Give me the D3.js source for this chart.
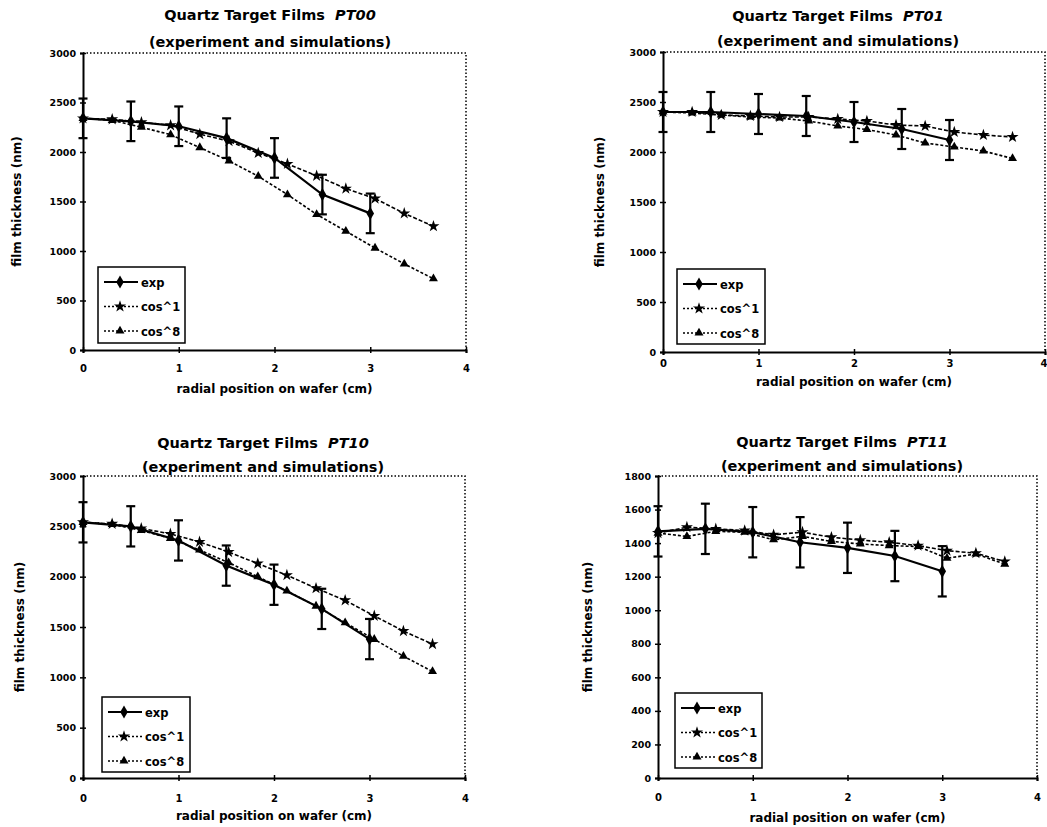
<!DOCTYPE html>
<html><head><meta charset="utf-8">
<script src="https://cdn.jsdelivr.net/npm/d3@7"></script>
<style>
html,body{margin:0;padding:0;background:#fff;}
svg{display:block;}
text{font-family:"DejaVu Sans",Arial,sans-serif;font-weight:700;fill:#000;}
</style></head>
<body>
<svg id="c" width="1047" height="827"></svg>
<script>
// ---------- data ----------
const expX = [0, 0.5, 1, 1.5, 2, 2.5, 3];
const simX = [0, 0.305, 0.61, 0.915, 1.22, 1.525, 1.83, 2.135, 2.44, 2.745, 3.05, 3.355, 3.66];
const xTicks = [0, 1, 2, 3, 4];
const yTicks3000 = [0, 500, 1000, 1500, 2000, 2500, 3000];
const yTicks1800 = [0, 200, 400, 600, 800, 1000, 1200, 1400, 1600, 1800];
const seriesNames = ["exp", "cos^1", "cos^8"];
const panelNames = ["PT00", "PT01", "PT10", "PT11"];

const expPT00  = [2340, 2310, 2260, 2140, 1940, 1570, 1380];
const errPT00  = [200, 200, 200, 200, 200, 200, 200];
const cos1PT00 = [2340, 2330, 2300, 2270, 2180, 2110, 1990, 1880, 1760, 1630, 1530, 1380, 1250];
const cos8PT00 = [2340, 2320, 2250, 2175, 2045, 1910, 1755, 1570, 1370, 1200, 1030, 870, 720];

const expPT01  = [2400, 2400, 2380, 2360, 2300, 2230, 2120];
const errPT01  = [200, 200, 200, 200, 200, 200, 200];
const cos1PT01 = [2400, 2400, 2370, 2360, 2350, 2350, 2330, 2310, 2270, 2260, 2200, 2170, 2150];
const cos8PT01 = [2400, 2390, 2370, 2350, 2340, 2310, 2260, 2225, 2170, 2090, 2050, 2010, 1935];

const expPT10  = [2540, 2500, 2360, 2110, 1920, 1680, 1380];
const errPT10  = [200, 200, 200, 200, 200, 200, 200];
const cos1PT10 = [2540, 2525, 2480, 2425, 2345, 2245, 2130, 2015, 1885, 1765, 1610, 1460, 1330];
const cos8PT10 = [2540, 2520, 2460, 2380, 2265, 2140, 2000, 1858, 1708, 1542, 1378, 1210, 1058];

const expPT11  = [1470, 1485, 1465, 1405, 1372, 1323, 1232];
const errPT11  = [150, 150, 150, 150, 150, 150, 150];
const cos1PT11 = [1460, 1495, 1485, 1475, 1450, 1465, 1435, 1418, 1405, 1385, 1355, 1340, 1290];
const cos8PT11 = [1460, 1440, 1470, 1465, 1420, 1440, 1410, 1395, 1385, 1380, 1310, 1335, 1275];

// ---------- layout ----------
const panels = [
  {name: panelNames[0], exp: expPT00, err: errPT00, c1: cos1PT00, c8: cos8PT00, yMax: 3000, yTicks: yTicks3000,
   L: 83, R: 466, T: 53, B: 350, tx: 270, t1: 20, t2: 47, xlabY: 372, xtitY: 393, ytitX: 21, leg: {x: 98, y: 267, w: 87, h: 76}},
  {name: panelNames[1], exp: expPT01, err: errPT01, c1: cos1PT01, c8: cos8PT01, yMax: 3000, yTicks: yTicks3000,
   L: 663, R: 1045, T: 52, B: 352, tx: 838, t1: 21, t2: 46, xlabY: 367, xtitY: 386, ytitX: 604, leg: {x: 677, y: 269, w: 88, h: 75}},
  {name: panelNames[2], exp: expPT10, err: errPT10, c1: cos1PT10, c8: cos8PT10, yMax: 3000, yTicks: yTicks3000,
   L: 83, R: 465, T: 476, B: 778, tx: 263, t1: 448, t2: 472, xlabY: 802, xtitY: 820, ytitX: 24, leg: {x: 102, y: 697, w: 88, h: 75}},
  {name: panelNames[3], exp: expPT11, err: errPT11, c1: cos1PT11, c8: cos8PT11, yMax: 1800, yTicks: yTicks1800,
   L: 658, R: 1037, T: 476, B: 778, tx: 842, t1: 447, t2: 471, xlabY: 801, xtitY: 822, ytitX: 592, leg: {x: 675, y: 693, w: 87, h: 75}}
];

const svg = d3.select("#c");
const W = 1047;

const sym = {
  exp: d3.symbol().type(d3.symbolDiamond).size(50),
  c1: d3.symbol().type(d3.symbolStar).size(45),
  c8: d3.symbol().type(d3.symbolTriangle).size(35)
};

panels.forEach(p => {
  const g = svg.append("g");
  const x = d3.scaleLinear().domain([0, 4]).range([p.L, p.R]);
  const y = d3.scaleLinear().domain([0, p.yMax]).range([p.B, p.T]);

  // dotted plot border (top/right)
  g.append("path")
    .attr("d", `M${p.L},${p.T}H${p.R}V${p.B}`)
    .attr("fill", "none").attr("stroke", "#000").attr("stroke-width", 1.5)
    .attr("stroke-dasharray", "1.5,2");

  // axes
  const ya = g.append("g").attr("transform", `translate(${p.L},0)`)
    .call(d3.axisLeft(y).tickValues(p.yTicks).tickSize(3).tickPadding(4).tickFormat(d3.format("d")));
  ya.select(".domain").attr("stroke-width", 2);
  ya.selectAll(".tick line").attr("stroke-width", 1.5);
  ya.selectAll(".tick").append("line").attr("x2", 3).attr("stroke", "#000").attr("stroke-width", 1.5);
  ya.selectAll("text").style("font-size", "9.5px").style("font-family", "DejaVu Sans, Arial").style("font-weight", 700);

  const xa = g.append("g").attr("transform", `translate(0,${p.B})`)
    .call(d3.axisBottom(x).tickValues(xTicks).tickSize(3).tickPadding(0).tickFormat(d3.format("d")));
  xa.select(".domain").attr("stroke-width", 2);
  xa.selectAll(".tick line").attr("stroke-width", 1.5);
  xa.selectAll(".tick").append("line").attr("y2", -3).attr("stroke", "#000").attr("stroke-width", 1.5);
  xa.selectAll("text").attr("y", null).attr("dy", null)
    .attr("transform", `translate(0,${p.xlabY - p.B})`)
    .style("font-size", "10px").style("font-family", "DejaVu Sans, Arial").style("font-weight", 700);
  // keep a label at the page's right edge inside the picture
  xa.selectAll(".tick").filter(d => x(d) + 4 > W).select("text").attr("text-anchor", "end").attr("x", 2);

  // titles
  const t = g.append("text").attr("x", p.tx).attr("y", p.t1).attr("text-anchor", "middle").style("font-size", "14.5px");
  t.append("tspan").text("Quartz Target Films\u00a0\u00a0");
  t.append("tspan").style("font-style", "italic").text(p.name);
  g.append("text").attr("x", p.tx).attr("y", p.t2).attr("text-anchor", "middle").style("font-size", "14.5px")
    .text("(experiment and simulations)");
  g.append("text").attr("x", (p.L + p.R) / 2).attr("y", p.xtitY).attr("text-anchor", "middle").style("font-size", "12px")
    .text("radial position on wafer (cm)");
  g.append("text").attr("transform", `translate(${p.ytitX},${(p.T + p.B) / 2}) rotate(-90)`)
    .attr("text-anchor", "middle").style("font-size", "12px").text("film thickness (nm)");

  // simulation lines
  const line = d3.line().x(d => x(d[0])).y(d => y(d[1]));
  const c8d = simX.map((v, i) => [v, p.c8[i]]);
  const c1d = simX.map((v, i) => [v, p.c1[i]]);
  const exd = expX.map((v, i) => [v, p.exp[i]]);

  g.append("path").attr("d", line(c8d)).attr("fill", "none").attr("stroke", "#000")
    .attr("stroke-width", 1.6).attr("stroke-dasharray", "3,2");
  g.append("path").attr("d", line(c1d)).attr("fill", "none").attr("stroke", "#000")
    .attr("stroke-width", 1.6).attr("stroke-dasharray", "4,2");
  g.selectAll(".m8").data(c8d).join("path").attr("d", sym.c8)
    .attr("transform", d => `translate(${x(d[0])},${y(d[1])})`).attr("fill", "#000");
  g.selectAll(".m1").data(c1d).join("path").attr("d", sym.c1)
    .attr("transform", d => `translate(${x(d[0])},${y(d[1])})`).attr("fill", "#000");

  // experiment line + error bars
  g.append("path").attr("d", line(exd)).attr("fill", "none").attr("stroke", "#000").attr("stroke-width", 2.2);
  exd.forEach((d, i) => {
    const e = p.err[i];
    const xx = x(d[0]);
    g.append("line").attr("x1", xx).attr("x2", xx).attr("y1", y(d[1] + e)).attr("y2", y(d[1] - e))
      .attr("stroke", "#000").attr("stroke-width", 2.2);
    [d[1] + e, d[1] - e].forEach(v => {
      g.append("line").attr("x1", xx - 4.5).attr("x2", xx + 4.5).attr("y1", y(v)).attr("y2", y(v))
        .attr("stroke", "#000").attr("stroke-width", 2.2);
    });
  });
  g.selectAll(".me").data(exd).join("path").attr("d", sym.exp)
    .attr("transform", d => `translate(${x(d[0])},${y(d[1])})`).attr("fill", "#000");

  // legend
  const lg = g.append("g").attr("transform", `translate(${p.leg.x},${p.leg.y})`);
  lg.append("rect").attr("width", p.leg.w).attr("height", p.leg.h).attr("fill", "#fff")
    .attr("stroke", "#000").attr("stroke-width", 1.5);
  const rows = [
    {k: "exp", dash: null, w: 2.2},
    {k: "c1", dash: "2,2", w: 1.6},
    {k: "c8", dash: "2,2", w: 1.6}
  ];
  rows.forEach((r, i) => {
    const ry = 15 + i * 24.5;
    lg.append("line").attr("x1", 6).attr("x2", 40).attr("y1", ry).attr("y2", ry)
      .attr("stroke", "#000").attr("stroke-width", r.w).attr("stroke-dasharray", r.dash);
    lg.append("path").attr("d", sym[r.k]).attr("transform", `translate(22,${ry})`).attr("fill", "#000");
    lg.append("text").attr("x", 43).attr("y", ry + 4.5).style("font-size", "11.5px").text(seriesNames[i]);
  });
});
</script>
</body></html>
